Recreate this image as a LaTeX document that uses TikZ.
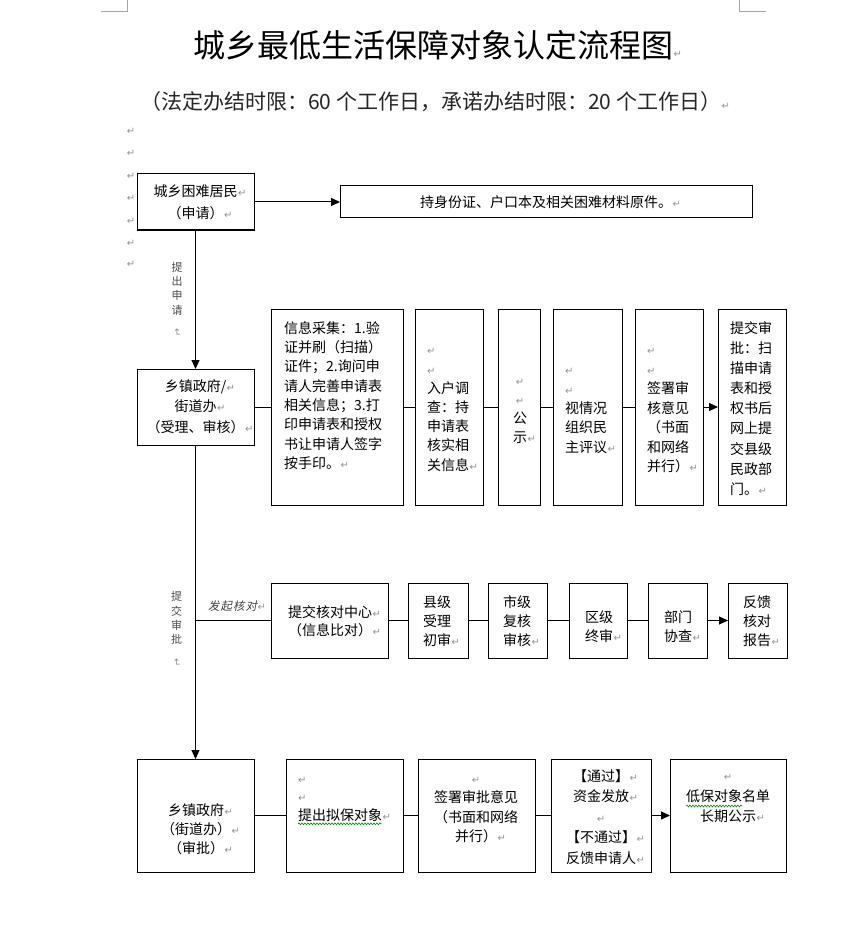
\documentclass[tikz,border=0pt]{standalone}
\usepackage{fontspec}
\usepackage{graphicx}
\setmainfont{Noto Sans CJK SC}
\newfontfamily\djv{DejaVu Sans}
\newfontfamily\cjksl[FakeSlant=0.2]{Noto Sans CJK SC}
\usetikzlibrary{arrows.meta,decorations.pathmorphing}
\newcommand\pmkg{{\djv\fontsize{10}{10}\selectfont\color{black!42}↵}}
\newcommand\pmk{\rlap{\kern0.5pt\pmkg}}
\newcommand\pmkl{\vphantom{国}\pmkg}
\newcommand\pmkc{\vphantom{国}\makebox[0pt]{\pmkg}}
\newcommand\pmkv{\rotatebox{-90}{\pmkg}}
\newcommand\bx[5]{\node[box, minimum width={#4-#2}, minimum height={#5-#3}] (#1) at ({(#2+#4)/2},{(#3+#5)/2}) {};}
\tikzset{
  box/.style={draw, line width=1pt, inner sep=0pt, outer sep=0pt},
  txt/.style={inner sep=0pt, font=\fontsize{14}{#1}\selectfont},
  ln/.style={line width=1pt},
  arr/.style={line width=1pt, -{Triangle[length=9pt,width=8pt]}},
  vlab/.style={inner sep=0pt, align=center, text=black!70, font=\fontsize{11}{14.4}\selectfont},
  wavy/.style={draw=green!55!black, line width=0.6pt, decorate, decoration={snake, amplitude=0.9pt, segment length=3pt}},
  corner/.style={draw=black!35, line width=0.8pt}
}
\begin{document}
\begin{tikzpicture}[x=1pt,y=-1pt]
\fill[white] (0,0) rectangle (867,925);
\useasboundingbox (0,0) rectangle (867,925);

% page corner marks
\draw[corner] (101,11) -- (127,11) -- (127,0);
\draw[corner] (739,0) -- (739,11) -- (766,11);

% title and subtitle
\node[anchor=west, inner sep=0pt, font=\fontsize{32}{32}\selectfont] (title) at (193,45) {城乡最低生活保障对象认定流程图\pmk};
\node[anchor=west, inner sep=0pt, text=black!85, font=\fontsize{21}{21}\selectfont] (sub) at (140,102) {（法定办结时限：60 个工作日，承诺办结时限：20 个工作日）\pmk};

% left column paragraph marks
\foreach \yy [count=\i] in {131,153,176,198,221,243,264}
  \node[inner sep=0pt] (m\i) at (131,\yy) {\pmkg};

% boxes
\bx{nA}{137}{174}{254}{230}
\bx{nB}{340}{186}{752}{218}
\bx{nC}{137}{369}{254}{445}
\bx{nD}{271}{309}{403}{505}
\bx{nE}{415}{309}{483}{505}
\bx{nF}{498}{309}{540}{505}
\bx{nG}{553}{309}{622}{505}
\bx{nH}{635}{309}{703}{505}
\bx{nI}{718}{309}{786}{505}
\bx{nJ}{271}{583}{388}{658}
\bx{nK}{408}{583}{468}{658}
\bx{nL}{488}{583}{547}{658}
\bx{nM}{569}{583}{627}{658}
\bx{nN}{648}{583}{707}{658}
\bx{nO}{728}{583}{787}{658}
\bx{nP}{137}{759}{254}{872}
\bx{nQ}{286}{759}{403}{872}
\bx{nR}{418}{759}{535}{872}
\bx{nS}{551}{759}{651}{872}
\bx{nT}{670}{759}{786}{872}

% texts row 1
\node[txt=22, align=center] (tA) at (195.5,202) {城乡困难居民\pmk\\（申请）\pmk};
\node[txt=20, align=center] (tB) at (546,202) {持身份证、户口本及相关困难材料原件。\pmk};
\node[txt=20.5, align=center] (tC) at (195.5,406.5) {乡镇政府/\pmk\\街道办\pmk\\（受理、审核）\pmk};

% texts row 2
\node[txt=19.3, align=left, anchor=west] (tD) at (284,395.5) {信息采集：1.验\\证并刷（扫描）\\证件；2.询问申\\请人完善申请表\\相关信息；3.打\\印申请表和授权\\书让申请人签字\\按手印。\pmk};
\node[txt=19.2, align=left, anchor=west] (tE) at (427,407.5) {\pmkl\\\pmkl\\入户调\\查：持\\申请表\\核实相\\关信息\pmk};
\node[txt=19, align=center] (tF) at (520,408.5) {\pmkc\\\pmkc\\公\\示\pmk};
\node[txt=19.3, align=left, anchor=west] (tG) at (565,408.5) {\pmkl\\\pmkl\\视情况\\组织民\\主评议\pmk};
\node[txt=19.5, align=left, anchor=west] (tH) at (647,408.5) {\pmkl\\\pmkl\\签署审\\核意见\\（书面\\和网络\\并行）\pmk};
\node[txt=20.1, align=left, anchor=west] (tI) at (730,408.5) {提交审\\批：扫\\描申请\\表和授\\权书后\\网上提\\交县级\\民政部\\门。\pmk};

% texts row 3
\node[txt=18.5, align=center] (tJ) at (330,621) {提交核对中心\pmk\\（信息比对）\pmk};
\node[txt=19, align=left, anchor=west] (tK) at (423,621) {县级\\受理\\初审\pmk};
\node[txt=19, align=left, anchor=west] (tL) at (503,621) {市级\\复核\\审核\pmk};
\node[txt=19, align=left, anchor=west] (tM) at (585,626.5) {区级\\终审\pmk};
\node[txt=19, align=left, anchor=west] (tN) at (664,626.5) {部门\\协查\pmk};
\node[txt=19, align=left, anchor=west] (tO) at (743,621) {反馈\\核对\\报告\pmk};

% texts row 4
\node[txt=19, align=center] (tP) at (196,829) {乡镇政府\pmk\\（街道办）\pmk\\（审批）\pmk};
\node[txt=18.5, align=left, anchor=west] (tQ) at (298,796.5) {\pmkl\\\pmkl\\提出拟保对象\pmk};
\node[txt=19.5, align=center] (tR) at (476,807.5) {\pmkc\\签署审批意见\\（书面和网络\\并行）\pmk};
\node[txt=20.5, align=center] (tS) at (601,817) {【通过】\pmk\\资金发放\pmk\\\pmkc\\【不通过】\pmk\\反馈申请人\pmk};
\node[txt=20.5, align=center] (tT) at (728,796.5) {\pmkc\\低保对象名单\\长期公示\pmk};

% wavy grammar underlines
\draw[wavy] ([yshift=-2.5pt]tQ.south west) -- ++(84,0);
\draw[wavy] (686,806) -- (742,806);

% side labels
\node[vlab] (v1) at (177,299.5) {提\\出\\申\\请\\\pmkv};
\node[vlab] (v2) at (176.5,629) {提\\交\\审\\批\\\pmkv};
\node[anchor=west, inner sep=0pt, text=black!75, font=\fontsize{11.5}{11.5}\selectfont] (lab) at (208,606) {\cjksl 发\kern1pt 起\kern1pt 核\kern1pt 对\pmk};

% connectors
\draw[arr] (nA) -- (nB);
\draw[arr] (nA) -- (nC);
\draw[ln] (nC) -- (nD);
\draw[ln] (nD) -- (nE);
\draw[ln] (nE) -- (nF);
\draw[ln] (nF) -- (nG);
\draw[ln] (nG) -- (nH);
\draw[arr] (nH) -- (nI);
\draw[arr] (nC) -- (nP);
\coordinate (br) at (nC.south |- nJ.west);
\draw[ln] (br) -- (nJ);
\draw[ln] (nJ) -- (nK);
\draw[ln] (nK) -- (nL);
\draw[ln] (nL) -- (nM);
\draw[ln] (nM) -- (nN);
\draw[arr] (nN) -- (nO);
\draw[ln] (nP) -- (nQ);
\draw[ln] (nQ) -- (nR);
\draw[ln] (nR) -- (nS);
\draw[arr] (nS) -- (nT);
\end{tikzpicture}
\end{document}
